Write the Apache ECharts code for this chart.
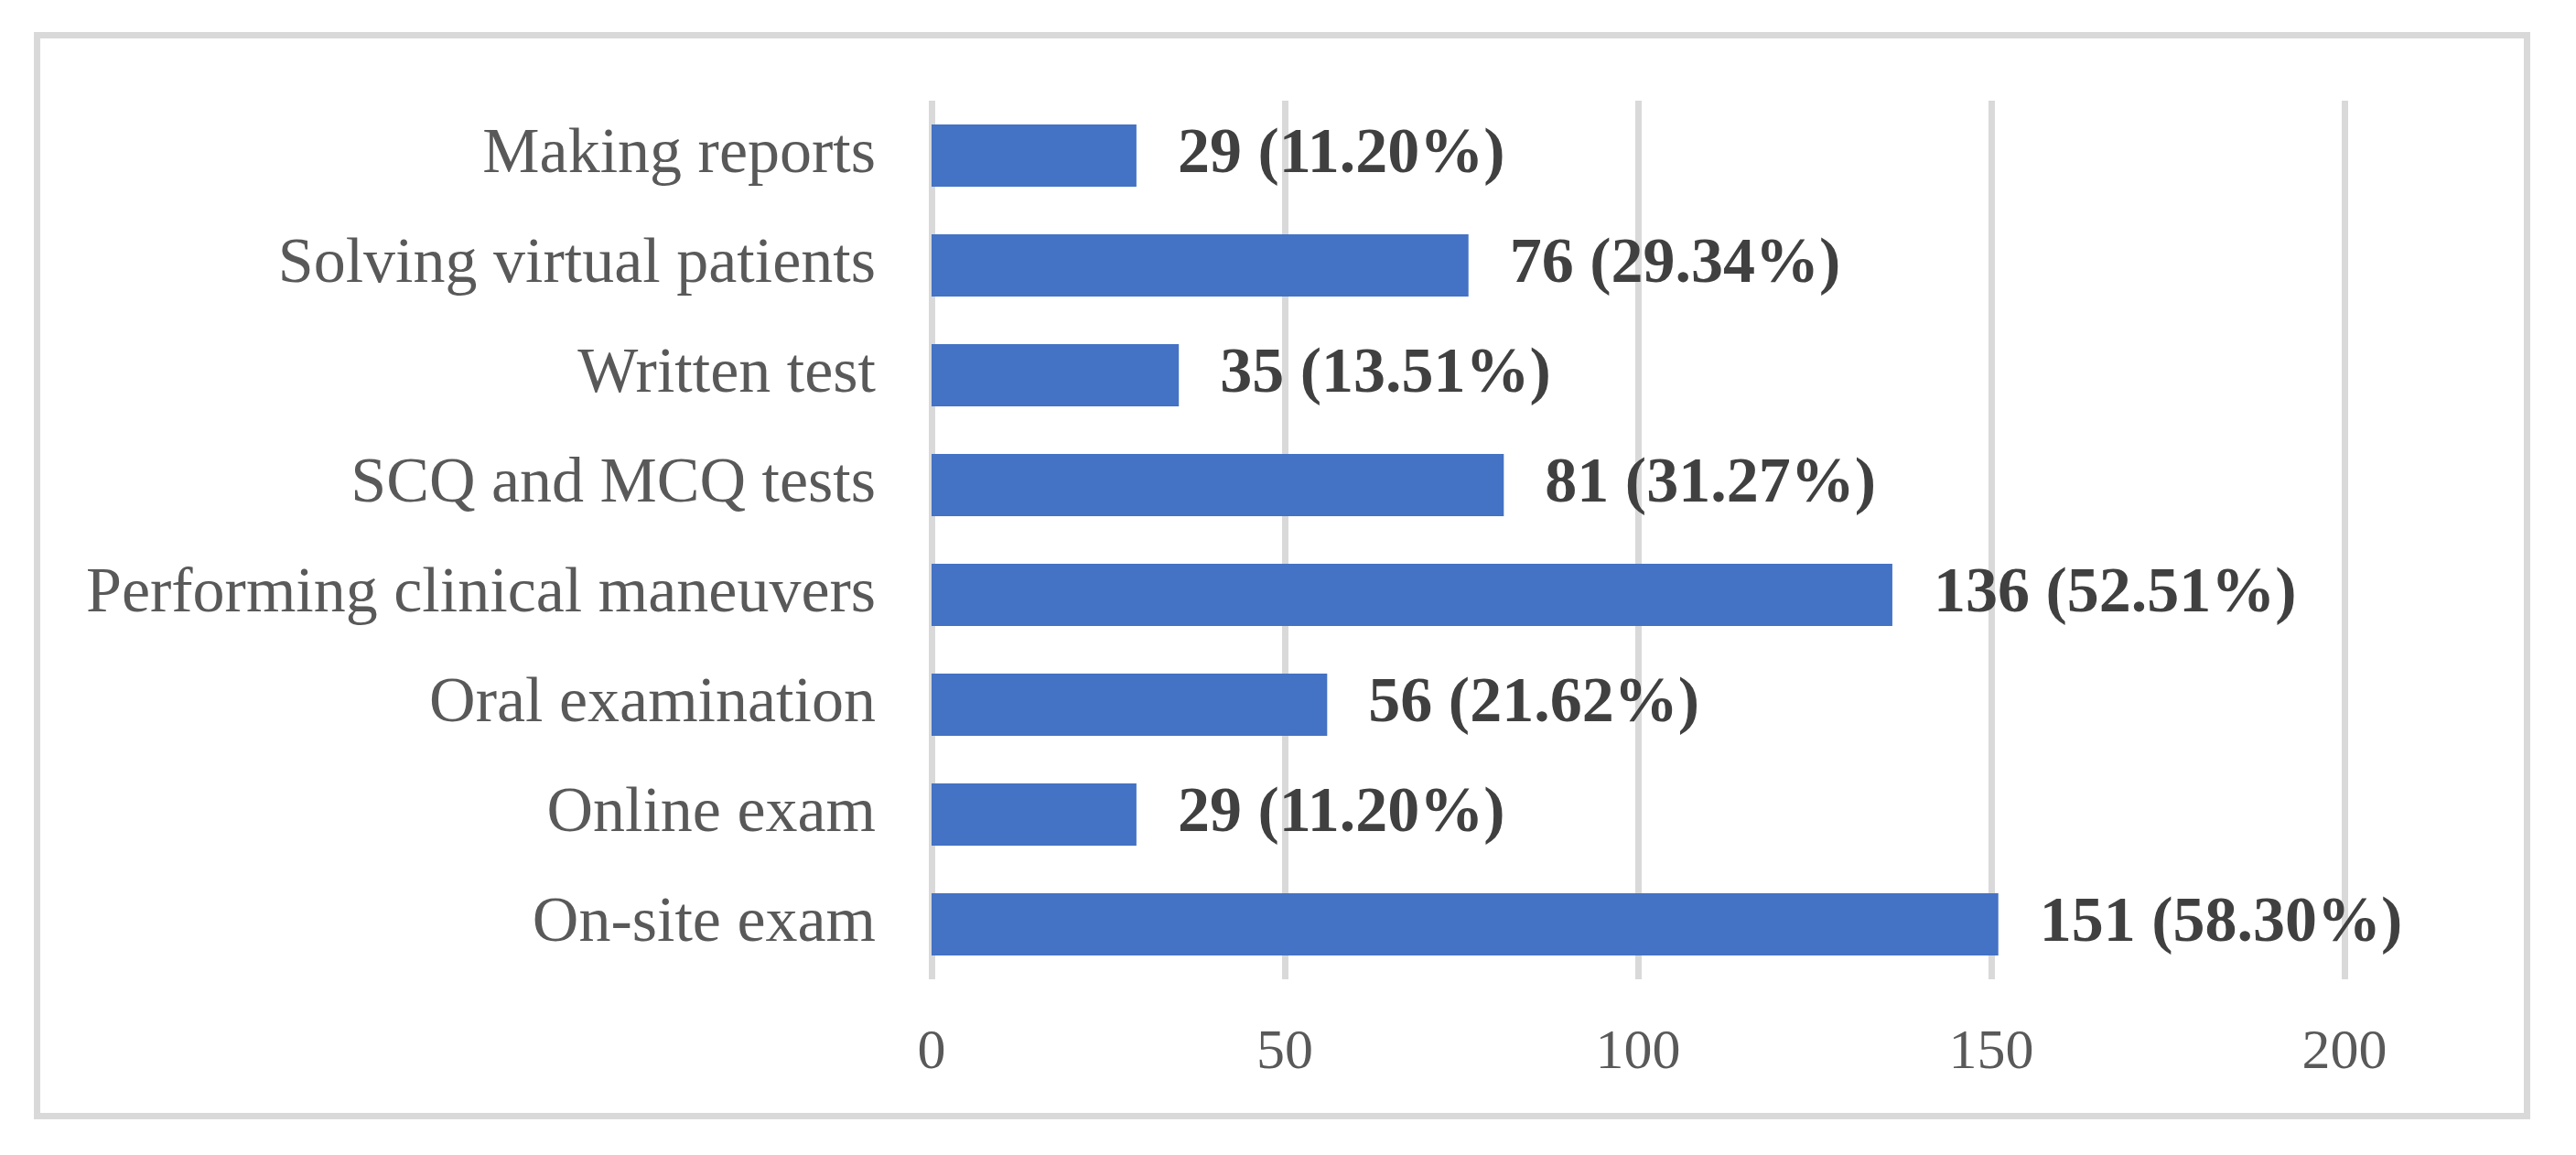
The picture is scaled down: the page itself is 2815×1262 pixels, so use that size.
<!DOCTYPE html>
<html>
<head>
<meta charset="utf-8">
<script src="https://cdn.jsdelivr.net/npm/echarts@6/dist/echarts.min.js"></script>
<style>
html,body{margin:0;padding:0;background:#fff;}
#chart{width:2815px;height:1262px;}
</style>
</head>
<body>
<div id="chart"></div>
<script>
// Categories listed bottom to top (ECharts category y-axis starts at bottom)
const categories = ["On-site exam","Online exam","Oral examination","Performing clinical maneuvers","SCQ and MCQ tests","Written test","Solving virtual patients","Making reports"];
const counts = [151, 29, 56, 136, 81, 35, 76, 29];
const percents = ["58.30%","11.20%","21.62%","52.51%","31.27%","13.51%","29.34%","11.20%"];
const xTicks = [0, 50, 100, 150, 200];

const chart = echarts.init(document.getElementById('chart'), null, {renderer:'canvas'});
const serif = '"Liberation Serif","Times New Roman",serif';
chart.setOption({
  backgroundColor:'#ffffff',
  animation:false,
  graphic:[{
    type:'rect',
    shape:{x:40.5,y:38.5,width:2721,height:1181},
    style:{fill:'none',stroke:'#d9d9d9',lineWidth:7},
    z:-1
  }],
  grid:{left:1018,right:253,top:110,bottom:192,containLabel:false},
  xAxis:{
    type:'value',
    min:xTicks[0],max:xTicks[xTicks.length-1],interval:50,
    axisLine:{show:false},
    axisTick:{show:false},
    splitLine:{show:true,lineStyle:{color:'#d9d9d9',width:7}},
    axisLabel:{margin:50,color:'#595959',fontFamily:serif,fontSize:62}
  },
  yAxis:{
    type:'category',
    data:categories,
    axisLine:{show:false},
    axisTick:{show:false},
    axisLabel:{margin:61,color:'#595959',fontFamily:serif,fontSize:70}
  },
  series:[{
    type:'bar',
    data:counts,
    barWidth:68,
    itemStyle:{color:'#4472c4'},
    label:{
      show:true,position:'right',distance:45,
      fontFamily:serif,fontSize:70,fontWeight:'bold',color:'#404040',
      formatter:(p)=>counts[p.dataIndex]+' ('+percents[p.dataIndex]+')'
    }
  }]
});
</script>
</body>
</html>
